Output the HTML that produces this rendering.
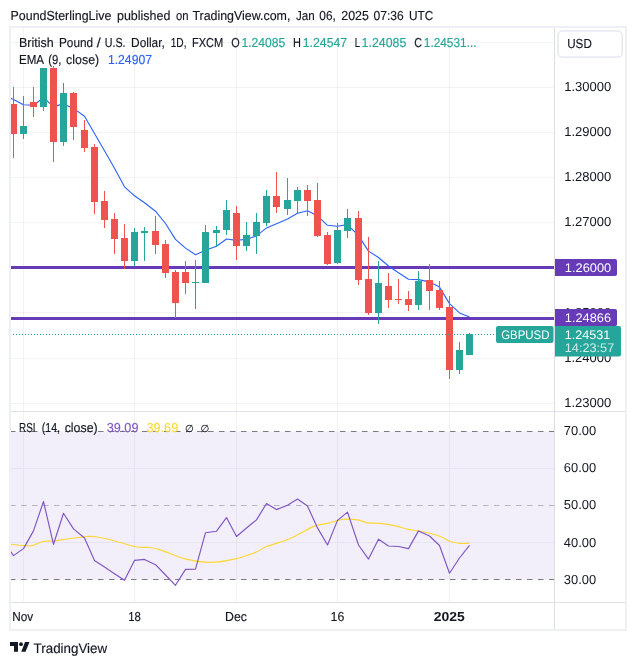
<!DOCTYPE html>
<html><head><meta charset="utf-8"><title>GBPUSD chart</title>
<style>
html,body{margin:0;padding:0;background:#fff;}
body{width:636px;height:665px;overflow:hidden;font-family:"Liberation Sans",sans-serif;}
svg{display:block;will-change:transform;}
text{font-family:"Liberation Sans",sans-serif;-webkit-font-smoothing:antialiased;text-rendering:geometricPrecision;stroke-width:0.15px;}
</style></head><body>
<svg width="636" height="665" viewBox="0 0 636 665">
<rect width="636" height="665" fill="#fff"/>

<g shape-rendering="crispEdges" stroke="rgba(42,46,57,0.06)" stroke-width="1">
<line x1="23.5" y1="27" x2="23.5" y2="602"/>
<line x1="134.5" y1="27" x2="134.5" y2="602"/>
<line x1="236.5" y1="27" x2="236.5" y2="602"/>
<line x1="337.5" y1="27" x2="337.5" y2="602"/>
<line x1="449.5" y1="27" x2="449.5" y2="602"/>
<line x1="10" y1="42.5" x2="554" y2="42.5"/>
<line x1="10" y1="87.5" x2="554" y2="87.5"/>
<line x1="10" y1="132.5" x2="554" y2="132.5"/>
<line x1="10" y1="177.5" x2="554" y2="177.5"/>
<line x1="10" y1="222.5" x2="554" y2="222.5"/>
<line x1="10" y1="267.5" x2="554" y2="267.5"/>
<line x1="10" y1="312.5" x2="554" y2="312.5"/>
<line x1="10" y1="358.5" x2="554" y2="358.5"/>
<line x1="10" y1="403.5" x2="554" y2="403.5"/>
</g>
<rect x="10" y="431.5" width="544.5" height="148" fill="#f2eefa"/>
<g shape-rendering="crispEdges" stroke="#e6e4f2" stroke-width="1">
<line x1="23.5" y1="432" x2="23.5" y2="579"/>
<line x1="134.5" y1="432" x2="134.5" y2="579"/>
<line x1="236.5" y1="432" x2="236.5" y2="579"/>
<line x1="337.5" y1="432" x2="337.5" y2="579"/>
<line x1="449.5" y1="432" x2="449.5" y2="579"/>
<line x1="10" y1="468.5" x2="554" y2="468.5"/>
<line x1="10" y1="542.5" x2="554" y2="542.5"/>
</g>
<g stroke="#787b86" stroke-width="1" stroke-dasharray="5.5 5.5" fill="none">
<line x1="10" y1="431.5" x2="554.5" y2="431.5" stroke-opacity="1"/>
<line x1="10" y1="505.5" x2="554.5" y2="505.5" stroke-opacity="0.5"/>
<line x1="10" y1="579.5" x2="554.5" y2="579.5" stroke-opacity="1"/>
</g>
<rect x="10" y="266" width="544" height="3" fill="#673ab7" shape-rendering="crispEdges"/>
<rect x="10" y="317" width="544" height="3" fill="#673ab7" shape-rendering="crispEdges"/>
<path d="M10,98 L13.5,99.5 L23.5,104.8 L33.5,105.2 L43.5,97.7 L53.5,106.6 L63.5,103.9 L73.5,108.4 L84.5,116.3 L94.5,133.5 L104.5,150.7 L114.5,168.3 L124.5,186.8 L134.5,195.8 L144.5,202.8 L155.5,211.2 L165.5,223.5 L175.5,239.4 L185.5,248.1 L195.5,254.8 L205.5,250.3 L216.5,246.3 L226.5,239.0 L236.5,240.4 L246.5,239.3 L256.5,235.9 L266.5,227.9 L276.5,223.7 L287.5,219.0 L297.5,213.2 L307.5,210.8 L317.5,215.8 L327.5,225.3 L337.5,226.3 L347.5,224.6 L358.5,235.6 L368.5,251.1 L378.5,257.5 L388.5,266.0 L398.5,272.8 L408.5,279.2 L418.5,279.6 L429.5,281.9 L439.5,287.1 L449.5,303.6 L459.5,312.9 L469.5,317.1" fill="none" stroke="#2962ff" stroke-width="1.1" stroke-linejoin="round"/>
<g shape-rendering="crispEdges">
<rect x="13" y="87" width="1" height="71" fill="#ef5350"/>
<rect x="10" y="104" width="7" height="30" fill="#ef5350"/>
<rect x="23" y="96" width="1" height="43" fill="#26a69a"/>
<rect x="20" y="126" width="7" height="8" fill="#26a69a"/>
<rect x="33" y="87" width="1" height="30" fill="#ef5350"/>
<rect x="30" y="102" width="7" height="5" fill="#ef5350"/>
<rect x="43" y="68" width="1" height="43" fill="#26a69a"/>
<rect x="40" y="68" width="7" height="39" fill="#26a69a"/>
<rect x="53" y="66" width="1" height="96" fill="#ef5350"/>
<rect x="50" y="68" width="7" height="74" fill="#ef5350"/>
<rect x="63" y="83" width="1" height="63" fill="#26a69a"/>
<rect x="60" y="93" width="7" height="49" fill="#26a69a"/>
<rect x="73" y="92" width="1" height="48" fill="#ef5350"/>
<rect x="70" y="93" width="7" height="34" fill="#ef5350"/>
<rect x="84" y="120" width="1" height="32" fill="#ef5350"/>
<rect x="81" y="130" width="7" height="18" fill="#ef5350"/>
<rect x="94" y="144" width="1" height="70" fill="#ef5350"/>
<rect x="91" y="147" width="7" height="55" fill="#ef5350"/>
<rect x="104" y="191" width="1" height="37" fill="#ef5350"/>
<rect x="101" y="201" width="7" height="19" fill="#ef5350"/>
<rect x="114" y="213" width="1" height="41" fill="#ef5350"/>
<rect x="111" y="219" width="7" height="20" fill="#ef5350"/>
<rect x="124" y="224" width="1" height="45" fill="#ef5350"/>
<rect x="121" y="238" width="7" height="23" fill="#ef5350"/>
<rect x="134" y="228" width="1" height="38" fill="#26a69a"/>
<rect x="131" y="232" width="7" height="29" fill="#26a69a"/>
<rect x="144" y="227" width="1" height="34" fill="#26a69a"/>
<rect x="141" y="231" width="7" height="2" fill="#26a69a"/>
<rect x="155" y="216" width="1" height="38" fill="#ef5350"/>
<rect x="152" y="231" width="7" height="14" fill="#ef5350"/>
<rect x="165" y="240" width="1" height="38" fill="#ef5350"/>
<rect x="162" y="244" width="7" height="29" fill="#ef5350"/>
<rect x="175" y="270" width="1" height="48" fill="#ef5350"/>
<rect x="172" y="272" width="7" height="31" fill="#ef5350"/>
<rect x="185" y="261" width="1" height="33" fill="#ef5350"/>
<rect x="182" y="272" width="7" height="11" fill="#ef5350"/>
<rect x="195" y="260" width="1" height="49" fill="#26a69a"/>
<rect x="192" y="282" width="7" height="1" fill="#26a69a"/>
<rect x="205" y="225" width="1" height="58" fill="#26a69a"/>
<rect x="202" y="232" width="7" height="51" fill="#26a69a"/>
<rect x="216" y="226" width="1" height="21" fill="#26a69a"/>
<rect x="213" y="230" width="7" height="3" fill="#26a69a"/>
<rect x="226" y="200" width="1" height="35" fill="#26a69a"/>
<rect x="223" y="210" width="7" height="20" fill="#26a69a"/>
<rect x="236" y="206" width="1" height="54" fill="#ef5350"/>
<rect x="233" y="213" width="7" height="33" fill="#ef5350"/>
<rect x="246" y="222" width="1" height="29" fill="#26a69a"/>
<rect x="243" y="235" width="7" height="11" fill="#26a69a"/>
<rect x="256" y="213" width="1" height="41" fill="#26a69a"/>
<rect x="253" y="222" width="7" height="14" fill="#26a69a"/>
<rect x="266" y="190" width="1" height="36" fill="#26a69a"/>
<rect x="263" y="196" width="7" height="27" fill="#26a69a"/>
<rect x="276" y="172" width="1" height="41" fill="#ef5350"/>
<rect x="273" y="196" width="7" height="11" fill="#ef5350"/>
<rect x="287" y="178" width="1" height="37" fill="#26a69a"/>
<rect x="284" y="200" width="7" height="9" fill="#26a69a"/>
<rect x="297" y="187" width="1" height="26" fill="#26a69a"/>
<rect x="294" y="190" width="7" height="11" fill="#26a69a"/>
<rect x="307" y="185" width="1" height="31" fill="#ef5350"/>
<rect x="304" y="190" width="7" height="11" fill="#ef5350"/>
<rect x="317" y="183" width="1" height="54" fill="#ef5350"/>
<rect x="314" y="200" width="7" height="36" fill="#ef5350"/>
<rect x="327" y="232" width="1" height="33" fill="#ef5350"/>
<rect x="324" y="235" width="7" height="29" fill="#ef5350"/>
<rect x="337" y="223" width="1" height="41" fill="#26a69a"/>
<rect x="334" y="230" width="7" height="33" fill="#26a69a"/>
<rect x="347" y="209" width="1" height="29" fill="#26a69a"/>
<rect x="344" y="218" width="7" height="13" fill="#26a69a"/>
<rect x="358" y="211" width="1" height="74" fill="#ef5350"/>
<rect x="355" y="218" width="7" height="62" fill="#ef5350"/>
<rect x="368" y="237" width="1" height="78" fill="#ef5350"/>
<rect x="365" y="279" width="7" height="34" fill="#ef5350"/>
<rect x="378" y="261" width="1" height="63" fill="#26a69a"/>
<rect x="375" y="283" width="7" height="30" fill="#26a69a"/>
<rect x="388" y="273" width="1" height="35" fill="#ef5350"/>
<rect x="385" y="286" width="7" height="14" fill="#ef5350"/>
<rect x="398" y="279" width="1" height="25" fill="#ef5350"/>
<rect x="395" y="299" width="7" height="1" fill="#ef5350"/>
<rect x="408" y="291" width="1" height="20" fill="#ef5350"/>
<rect x="405" y="299" width="7" height="6" fill="#ef5350"/>
<rect x="418" y="271" width="1" height="39" fill="#26a69a"/>
<rect x="415" y="281" width="7" height="24" fill="#26a69a"/>
<rect x="429" y="264" width="1" height="46" fill="#ef5350"/>
<rect x="426" y="280" width="7" height="11" fill="#ef5350"/>
<rect x="439" y="281" width="1" height="29" fill="#ef5350"/>
<rect x="436" y="290" width="7" height="18" fill="#ef5350"/>
<rect x="449" y="296" width="1" height="83" fill="#ef5350"/>
<rect x="446" y="307" width="7" height="63" fill="#ef5350"/>
<rect x="459" y="342" width="1" height="32" fill="#26a69a"/>
<rect x="456" y="350" width="7" height="20" fill="#26a69a"/>
<rect x="469" y="333" width="1" height="22" fill="#26a69a"/>
<rect x="466" y="334" width="7" height="21" fill="#26a69a"/>
</g>
<line x1="10" y1="334.5" x2="496" y2="334.5" stroke="#26a69a" stroke-width="1" stroke-dasharray="1 2" shape-rendering="crispEdges"/>
<path d="M10.0,544.3 C12.2,544.5 19.6,545.3 23.4,545.5 C27.2,545.7 29.5,546.2 32.7,545.5 C35.9,544.8 39.4,542.2 42.8,541.5 C46.1,540.8 47.8,541.5 52.8,541.0 C57.8,540.5 66.3,539.0 73.0,538.2 C79.7,537.5 86.3,536.1 93.0,536.5 C99.7,536.9 106.1,538.8 113.2,540.5 C120.3,542.2 129.7,545.6 135.8,546.8 C141.9,548.0 145.5,546.9 150.0,547.5 C154.5,548.1 156.7,548.7 162.6,550.6 C168.5,552.5 177.2,556.9 185.2,558.9 C193.2,560.9 202.0,562.4 210.4,562.4 C218.8,562.4 227.9,560.6 235.5,558.9 C243.1,557.2 250.6,554.3 255.7,552.3 C260.8,550.3 260.8,549.0 266.2,546.8 C271.6,544.6 282.8,541.4 288.4,539.2 C294.0,537.0 295.6,535.7 300.0,533.5 C304.4,531.3 310.5,527.6 315.1,525.9 C319.7,524.2 323.9,524.3 327.7,523.4 C331.5,522.5 334.6,521.1 337.7,520.4 C340.8,519.7 343.1,519.2 346.5,519.1 C349.9,519.0 354.3,519.3 357.9,519.9 C361.5,520.5 364.1,522.3 367.9,522.9 C371.7,523.5 375.9,522.9 380.5,523.4 C385.1,523.9 391.0,524.9 395.6,525.9 C400.2,526.9 404.4,528.6 408.2,529.4 C412.0,530.2 414.4,530.2 418.2,530.9 C422.0,531.6 427.0,532.5 430.8,533.5 C434.6,534.5 437.8,535.5 440.9,536.7 C444.0,538.0 446.2,539.9 449.2,541.0 C452.2,542.1 455.6,542.9 459.0,543.3 C462.4,543.7 467.6,543.3 469.3,543.3" fill="none" stroke="#fdd835" stroke-width="1.15" stroke-linejoin="round"/>
<path d="M10,550.6 L13.5,555.6 L23.5,548.6 L33.5,530.9 L43.5,501.5 L53.5,544.3 L63.5,513.3 L73.5,528.9 L84.5,538.0 L94.5,560.6 L104.5,567.0 L114.5,573.8 L124.5,580.3 L134.5,560.4 L144.5,559.4 L155.5,564.7 L165.5,575.0 L175.5,585.3 L185.5,569.4 L195.5,569.2 L205.5,532.7 L216.5,531.2 L226.5,517.6 L236.5,536.5 L246.5,528.0 L256.5,519.9 L266.5,503.5 L276.5,509.6 L287.5,505.3 L297.5,499.0 L307.5,506.0 L317.5,527.9 L327.5,545.0 L337.5,520.4 L347.5,512.1 L358.5,545.0 L368.5,559.1 L378.5,539.2 L388.5,546.0 L398.5,546.5 L408.5,548.6 L418.5,530.9 L429.5,536.0 L439.5,545.5 L449.5,573.2 L459.5,558.0 L469.5,545.4" fill="none" stroke="#7e57c2" stroke-width="1.15" stroke-linejoin="round"/>
<g shape-rendering="crispEdges" fill="none">
<line x1="554.5" y1="28" x2="554.5" y2="629" stroke="#dddee2" stroke-width="1"/>
<line x1="11" y1="411.5" x2="626" y2="411.5" stroke="#e0e2e8" stroke-width="1"/>
<line x1="11" y1="602.5" x2="626" y2="602.5" stroke="#e0e2e8" stroke-width="1"/>
<rect x="10" y="27" width="616" height="603" stroke="#eff0f5" stroke-width="2"/>
</g>
<text x="564.2" y="90.8" font-size="13.0" fill="#131722" stroke="#131722" textLength="47.0" lengthAdjust="spacingAndGlyphs" style="stroke-width:0">1.30000</text>
<text x="564.2" y="135.8" font-size="13.0" fill="#131722" stroke="#131722" textLength="47.0" lengthAdjust="spacingAndGlyphs" style="stroke-width:0">1.29000</text>
<text x="564.2" y="180.8" font-size="13.0" fill="#131722" stroke="#131722" textLength="47.0" lengthAdjust="spacingAndGlyphs" style="stroke-width:0">1.28000</text>
<text x="564.2" y="225.8" font-size="13.0" fill="#131722" stroke="#131722" textLength="47.0" lengthAdjust="spacingAndGlyphs" style="stroke-width:0">1.27000</text>
<text x="564.2" y="316.8" font-size="13.0" fill="#131722" stroke="#131722" textLength="47.0" lengthAdjust="spacingAndGlyphs" style="stroke-width:0">1.25000</text>
<text x="564.2" y="361.8" font-size="13.0" fill="#131722" stroke="#131722" textLength="47.0" lengthAdjust="spacingAndGlyphs" style="stroke-width:0">1.24000</text>
<text x="564.2" y="406.8" font-size="13.0" fill="#131722" stroke="#131722" textLength="47.0" lengthAdjust="spacingAndGlyphs" style="stroke-width:0">1.23000</text>
<text x="563.8" y="435.0" font-size="13.0" fill="#131722" stroke="#131722" textLength="32.37" lengthAdjust="spacingAndGlyphs" style="stroke-width:0">70.00</text>
<text x="563.8" y="472.0" font-size="13.0" fill="#131722" stroke="#131722" textLength="32.37" lengthAdjust="spacingAndGlyphs" style="stroke-width:0">60.00</text>
<text x="563.8" y="509.0" font-size="13.0" fill="#131722" stroke="#131722" textLength="32.37" lengthAdjust="spacingAndGlyphs" style="stroke-width:0">50.00</text>
<text x="563.8" y="547.0" font-size="13.0" fill="#131722" stroke="#131722" textLength="32.37" lengthAdjust="spacingAndGlyphs" style="stroke-width:0">40.00</text>
<text x="563.8" y="584.0" font-size="13.0" fill="#131722" stroke="#131722" textLength="32.37" lengthAdjust="spacingAndGlyphs" style="stroke-width:0">30.00</text>
<rect x="558" y="30.8" width="64.2" height="26.4" rx="4.5" fill="#fff" stroke="#e2e4ed" stroke-width="1.3"/>
<text x="567.2" y="48" font-size="13.0" fill="#131722" stroke="#131722" textLength="24.62" lengthAdjust="spacingAndGlyphs">USD</text>
<path d="M555,259 h60 a2,2 0 0 1 2,2 v13 a2,2 0 0 1 -2,2 h-60 z" fill="#673ab7"/>
<text x="564.8" y="271.6" font-size="12.5" fill="#fff" stroke="#fff" textLength="46.4" lengthAdjust="spacingAndGlyphs" style="stroke-width:0">1.26000</text>
<path d="M555,309 h60 a2,2 0 0 1 2,2 v13.2 a2,2 0 0 1 -2,2 h-60 z" fill="#673ab7"/>
<text x="564.8" y="321.5" font-size="12.5" fill="#fff" stroke="#fff" textLength="46.2" lengthAdjust="spacingAndGlyphs" style="stroke-width:0">1.24866</text>
<path d="M555,326 h64 a2,2 0 0 1 2,2 v26.5 a2,2 0 0 1 -2,2 h-64 z" fill="#26a69a"/>
<text x="564.8" y="338.6" font-size="12.5" fill="#fff" stroke="#fff" textLength="45.5" lengthAdjust="spacingAndGlyphs" style="stroke-width:0">1.24531</text>
<text x="564.8" y="352.4" font-size="12.5" fill="#d4edeb" stroke="#d4edeb" textLength="49.47" lengthAdjust="spacingAndGlyphs" style="stroke-width:0">14:23:57</text>
<rect x="496" y="326" width="57.5" height="17" rx="2" fill="#26a69a"/>
<text x="501.2" y="338.6" font-size="12.5" fill="#fff" stroke="#fff" textLength="48.28" lengthAdjust="spacingAndGlyphs" style="stroke-width:0">GBPUSD</text>
<text font-size="13.0"><tspan x="10.6" y="19.8" fill="#131722" stroke="#131722" textLength="100.73" lengthAdjust="spacingAndGlyphs">PoundSterlingLive</tspan> <tspan x="117.0" y="19.8" fill="#131722" stroke="#131722" textLength="53.32" lengthAdjust="spacingAndGlyphs">published</tspan> <tspan x="175.9" y="19.8" fill="#131722" stroke="#131722" textLength="12.53" lengthAdjust="spacingAndGlyphs">on</tspan> <tspan x="192.4" y="19.8" fill="#131722" stroke="#131722" textLength="97.97" lengthAdjust="spacingAndGlyphs">TradingView.com,</tspan> <tspan x="296.0" y="19.8" fill="#131722" stroke="#131722" textLength="18.73" lengthAdjust="spacingAndGlyphs">Jan</tspan> <tspan x="319.3" y="19.8" fill="#131722" stroke="#131722" textLength="16.5" lengthAdjust="spacingAndGlyphs">06,</tspan> <tspan x="341.3" y="19.8" fill="#131722" stroke="#131722" textLength="27.6" lengthAdjust="spacingAndGlyphs">2025</tspan> <tspan x="373.6" y="19.8" fill="#131722" stroke="#131722" textLength="30.17" lengthAdjust="spacingAndGlyphs">07:36</tspan> <tspan x="409.0" y="19.8" fill="#131722" stroke="#131722" textLength="24.3" lengthAdjust="spacingAndGlyphs">UTC</tspan></text>
<text font-size="13.0"><tspan x="19.0" y="46.9" fill="#131722" stroke="#131722" textLength="34.58" lengthAdjust="spacingAndGlyphs">British</tspan> <tspan x="59.0" y="46.9" fill="#131722" stroke="#131722" textLength="34.02" lengthAdjust="spacingAndGlyphs">Pound</tspan> <tspan x="96.8" y="46.9" fill="#131722" stroke="#131722" textLength="3.97" lengthAdjust="spacingAndGlyphs">/</tspan> <tspan x="104.8" y="46.9" fill="#131722" stroke="#131722" textLength="20.8" lengthAdjust="spacingAndGlyphs">U.S.</tspan> <tspan x="131.1" y="46.9" fill="#131722" stroke="#131722" textLength="33.7" lengthAdjust="spacingAndGlyphs">Dollar,</tspan> <tspan x="170.7" y="46.9" fill="#131722" stroke="#131722" textLength="15.81" lengthAdjust="spacingAndGlyphs">1D,</tspan> <tspan x="191.9" y="46.9" fill="#131722" stroke="#131722" textLength="31.38" lengthAdjust="spacingAndGlyphs">FXCM</tspan> <tspan x="231.3" y="46.9" fill="#131722" stroke="#131722" textLength="8.48" lengthAdjust="spacingAndGlyphs">O</tspan><tspan x="241.4" y="46.9" fill="#26a69a" stroke="#26a69a" textLength="43.9" lengthAdjust="spacingAndGlyphs">1.24085</tspan> <tspan x="293.1" y="46.9" fill="#131722" stroke="#131722" textLength="7.92" lengthAdjust="spacingAndGlyphs">H</tspan><tspan x="302.8" y="46.9" fill="#26a69a" stroke="#26a69a" textLength="44.3" lengthAdjust="spacingAndGlyphs">1.24547</tspan> <tspan x="354.7" y="46.9" fill="#131722" stroke="#131722" textLength="5.31" lengthAdjust="spacingAndGlyphs">L</tspan><tspan x="361.6" y="46.9" fill="#26a69a" stroke="#26a69a" textLength="44.7" lengthAdjust="spacingAndGlyphs">1.24085</tspan> <tspan x="414.2" y="46.9" fill="#131722" stroke="#131722" textLength="7.82" lengthAdjust="spacingAndGlyphs">C</tspan><tspan x="423.8" y="46.9" fill="#26a69a" stroke="#26a69a" textLength="52.68" lengthAdjust="spacingAndGlyphs">1.24531...</tspan></text>
<text font-size="13.0"><tspan x="19.0" y="63.8" fill="#131722" stroke="#131722" textLength="24.47" lengthAdjust="spacingAndGlyphs">EMA</tspan> <tspan x="48.2" y="63.8" fill="#131722" stroke="#131722" textLength="13.22" lengthAdjust="spacingAndGlyphs">(9,</tspan> <tspan x="66.1" y="63.8" fill="#131722" stroke="#131722" textLength="33.07" lengthAdjust="spacingAndGlyphs">close)</tspan> <tspan x="107.9" y="63.8" fill="#2962ff" stroke="#2962ff" textLength="44.1" lengthAdjust="spacingAndGlyphs">1.24907</tspan></text>
<text font-size="13.0"><tspan x="19.0" y="431.9" fill="#131722" stroke="#131722" textLength="16.52" lengthAdjust="spacingAndGlyphs">RSI</tspan> <tspan x="41.8" y="431.9" fill="#131722" stroke="#131722" textLength="18.18" lengthAdjust="spacingAndGlyphs">(14,</tspan> <tspan x="64.7" y="431.9" fill="#131722" stroke="#131722" textLength="32.97" lengthAdjust="spacingAndGlyphs">close)</tspan> <tspan x="106.7" y="431.9" fill="#7e57c2" stroke="#7e57c2" textLength="31.77" lengthAdjust="spacingAndGlyphs">39.09</tspan> <tspan x="146.6" y="431.9" fill="#fdd835" stroke="#fdd835" textLength="31.57" lengthAdjust="spacingAndGlyphs">39.69</tspan></text>
<text x="185.1" y="431.7" font-size="10" fill="#131722" stroke="#131722" textLength="8.8" lengthAdjust="spacingAndGlyphs" font-family="DejaVu Sans">∅</text>
<text x="200.6" y="431.7" font-size="10" fill="#131722" stroke="#131722" textLength="8.8" lengthAdjust="spacingAndGlyphs" font-family="DejaVu Sans">∅</text>
<text x="12.25" y="620.8" font-size="13.0" fill="#131722" stroke="#131722" textLength="20.93" lengthAdjust="spacingAndGlyphs">Nov</text>
<text x="128.3" y="620.8" font-size="13.0" fill="#131722" stroke="#131722" textLength="12.63" lengthAdjust="spacingAndGlyphs">18</text>
<text x="225.0" y="620.8" font-size="13.0" fill="#131722" stroke="#131722" textLength="21.88" lengthAdjust="spacingAndGlyphs">Dec</text>
<text x="330.6" y="620.8" font-size="13.0" fill="#131722" stroke="#131722" textLength="13.83" lengthAdjust="spacingAndGlyphs">16</text>
<text x="433.7" y="620.8" font-size="13.0" fill="#131722" stroke="#131722" textLength="31.1" lengthAdjust="spacingAndGlyphs" font-weight="bold" style="stroke-width:0">2025</text>
<g fill="#131722"><path d="M10,642 H18 V651.7 H14 V646 H10 Z"/><circle cx="21" cy="644.2" r="1.9"/><path d="M25,642 H29.5 L25.5,651.7 H21.3 Z"/></g>
<text x="33.6" y="652.7" font-size="13.8" fill="#131722" stroke="#131722" textLength="73.58" lengthAdjust="spacingAndGlyphs">TradingView</text>
</svg></body></html>
